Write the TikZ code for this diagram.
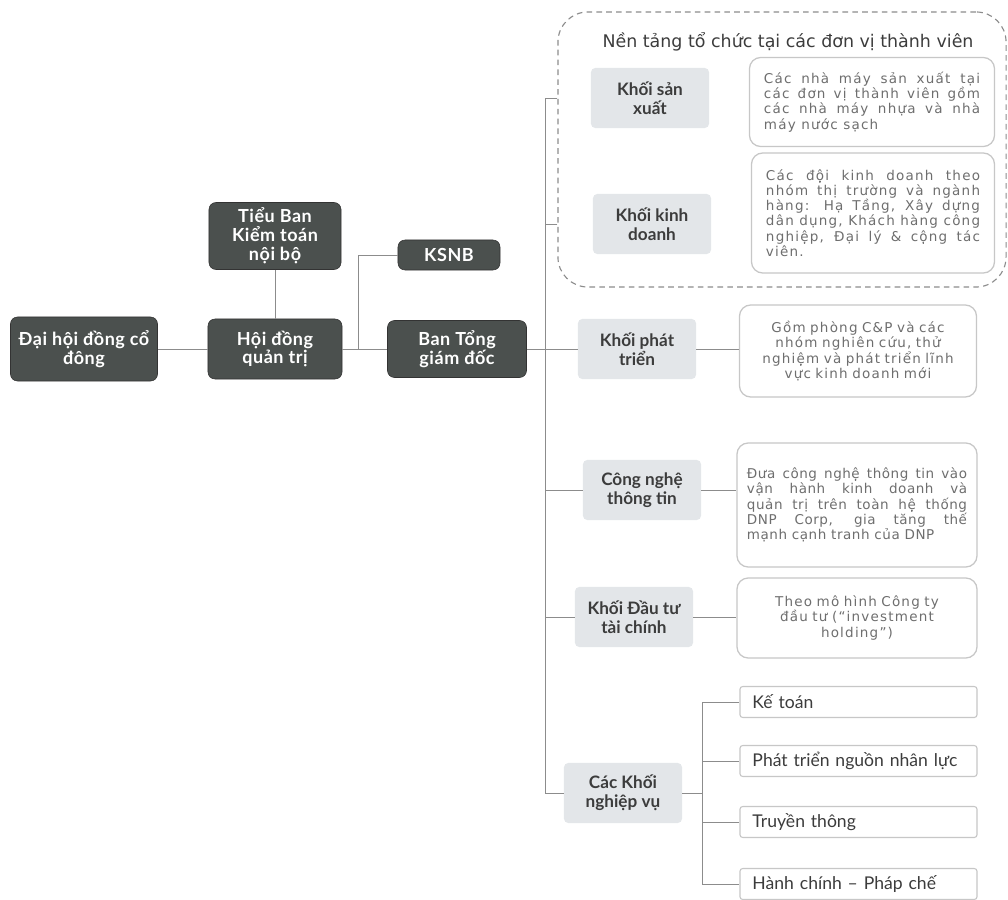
\documentclass[tikz,border=0pt]{standalone}
\usepackage{fontspec}
\setmainfont{Lato}
\newfontfamily\boardfont[LetterSpace=3]{Lato}
\newfontfamily\descfont[LetterSpace=9]{DejaVu Sans}
\newfontfamily\desctight[LetterSpace=4]{DejaVu Sans}
\newfontfamily\titlefont{DejaVu Sans}
\usepackage{xcolor}
\usepackage{tikz}

\definecolor{boardgray}{HTML}{4B504E}
\definecolor{blockgray}{HTML}{E3E6E9}
\definecolor{linegray}{HTML}{8C8C8C}
\definecolor{textgray}{HTML}{3C3C3C}
\definecolor{descgray}{HTML}{6E6E6E}

\begin{document}
\begin{tikzpicture}[
    x=0.025cm, y=-0.025cm,
    board/.style={draw=black!80, fill=boardgray, rounded corners=5pt, text=white, align=center, inner sep=2pt, font=\boardfont\fontsize{12.8}{13.4}\selectfont\bfseries},
    block/.style={fill=blockgray, rounded corners=3pt, minimum width=2.95cm, minimum height=1.5cm, align=center, text=textgray, font=\fontsize{12.2}{13.2}\selectfont\bfseries},
    desc/.style={draw=black!22, fill=white, rounded corners=8pt, line width=0.9pt, text=descgray, font=\descfont\fontsize{9.6}{10.8}\selectfont},
    unit/.style={draw=black!22, fill=white, rounded corners=2pt, line width=0.8pt, minimum width=5.925cm, minimum height=0.775cm, text width=5.3cm, align=left, text=textgray, font=\fontsize{12.5}{13}\selectfont},
    frame/.style={draw=black!45, line width=0.8pt, dash pattern=on 4pt off 3pt, rounded corners=0.75cm},
    link/.style={draw=linegray, line width=0.7pt}
]
\useasboundingbox (0,0) rectangle (1008,900);

% Member-unit frame
\node[frame, minimum width=11.2cm, minimum height=6.875cm] (nentang) at (782,149.5) {};
\node[font=\titlefont\fontsize{12.4}{14}\selectfont, text=textgray] (ntitle) at (788,42) {Nền tảng tổ chức tại các đơn vị thành viên};

% Governance boxes
\node[board, minimum width=3.675cm, minimum height=1.6cm] (dhd) at (84,349) {Đại hội đồng cổ\\đông};
\node[board, minimum width=3.35cm, minimum height=1.5cm] (hdqt) at (275,349) {Hội đồng\\quản trị};
\node[board, minimum width=3.3cm, minimum height=1.675cm] (tbkt) at (275,236) {Tiểu Ban\\Kiểm toán\\nội bộ};
\node[board, minimum width=2.55cm, minimum height=0.75cm] (ksnb) at (449,255) {KSNB};
\node[board, minimum width=3.475cm, minimum height=1.425cm] (btgd) at (457,349) {Ban Tổng\\giám đốc};

% Blocks
\node[block] (ksx) at (650,98) {Khối sản\\xuất};
\node[block] (kkd) at (652,224) {Khối kinh\\doanh};
\node[block] (kpt) at (637,349) {Khối phát\\triển};
\node[block] (cntt) at (642,490) {Công nghệ\\thông tin};
\node[block] (kdt) at (634,617) {Khối Đầu tư\\tài chính};
\node[block] (ncv) at (623,793) {Các Khối\\nghiệp vụ};

% Descriptions
\node[desc, minimum width=6.125cm, minimum height=2.225cm, text width=5.4cm, align=justify] (dsx) at (872,102)
    {Các nhà máy sản xuất tại\linebreak các đơn vị thành viên gồm\linebreak các nhà máy nhựa và nhà\linebreak máy nước sạch};
\node[desc, minimum width=6.075cm, minimum height=3cm, text width=5.35cm, align=justify] (dkd) at (873,213)
    {Các đội kinh doanh theo\linebreak nhóm thị trường và ngành\linebreak hàng: Hạ Tầng, Xây dựng\linebreak dân dụng, Khách hàng công\linebreak nghiệp, Đại lý \& cộng tác\linebreak viên.};
\node[desc, minimum width=5.925cm, minimum height=2.3cm, text width=5.6cm, align=center] (dpt) at (858,351)
    {Gồm phòng C\&P và các\\nhóm nghiên cứu, thử\\nghiệm và phát triển lĩnh\\vực kinh doanh mới};
\node[desc, font=\desctight\fontsize{9.6}{10.8}\selectfont, minimum width=6cm, minimum height=3.1cm, text width=5.5cm, align=justify] (dcntt) at (857,505)
    {Đưa công nghệ thông tin vào\linebreak vận hành kinh doanh và\linebreak quản trị trên toàn hệ thống\linebreak DNP Corp, gia tăng thế\linebreak mạnh cạnh tranh của DNP};
\node[desc, minimum width=6cm, minimum height=2cm, text width=5.4cm, align=center] (ddt) at (857,618)
    {Theo mô hình Công ty\\đầu tư (“investment\\holding”)};

% Support units
\node[unit] (kt) at (858.5,702) {Kế toán};
\node[unit] (nl) at (858.5,761) {Phát triển nguồn nhân lực};
\node[unit] (tt) at (858.5,822) {Truyền thông};
\node[unit] (hc) at (858.5,884) {Hành chính -- Pháp chế};

% Governance links
\draw[link] (dhd) -- (hdqt);
\draw[link] (tbkt) -- (hdqt);
\draw[link] (hdqt) -- (btgd);
\coordinate (kbr) at (358,349);
\draw[link] (kbr) |- (ksnb);

% Spine
\coordinate (spine) at (545,349);
\draw[link] (btgd) -- (kpt);
\draw[link] (nentang.west |- ksx) -- (spine |- ksx) |- (ncv);
\draw[link] (nentang.west |- kkd) -- (spine |- kkd);
\foreach \b in {cntt,kdt}
    \draw[link] (spine |- \b) -- (\b);

% Blocks to descriptions
\foreach \b/\d in {kpt/dpt,cntt/dcntt,kdt/ddt}
    \draw[link] (\b) -- (\b -| \d.west);

% Support branch
\coordinate (nvbr) at (702,793);
\foreach \u in {kt,nl,tt,hc}
    \draw[link] (ncv.east) -- (nvbr) |- (\u);
\end{tikzpicture}
\end{document}
